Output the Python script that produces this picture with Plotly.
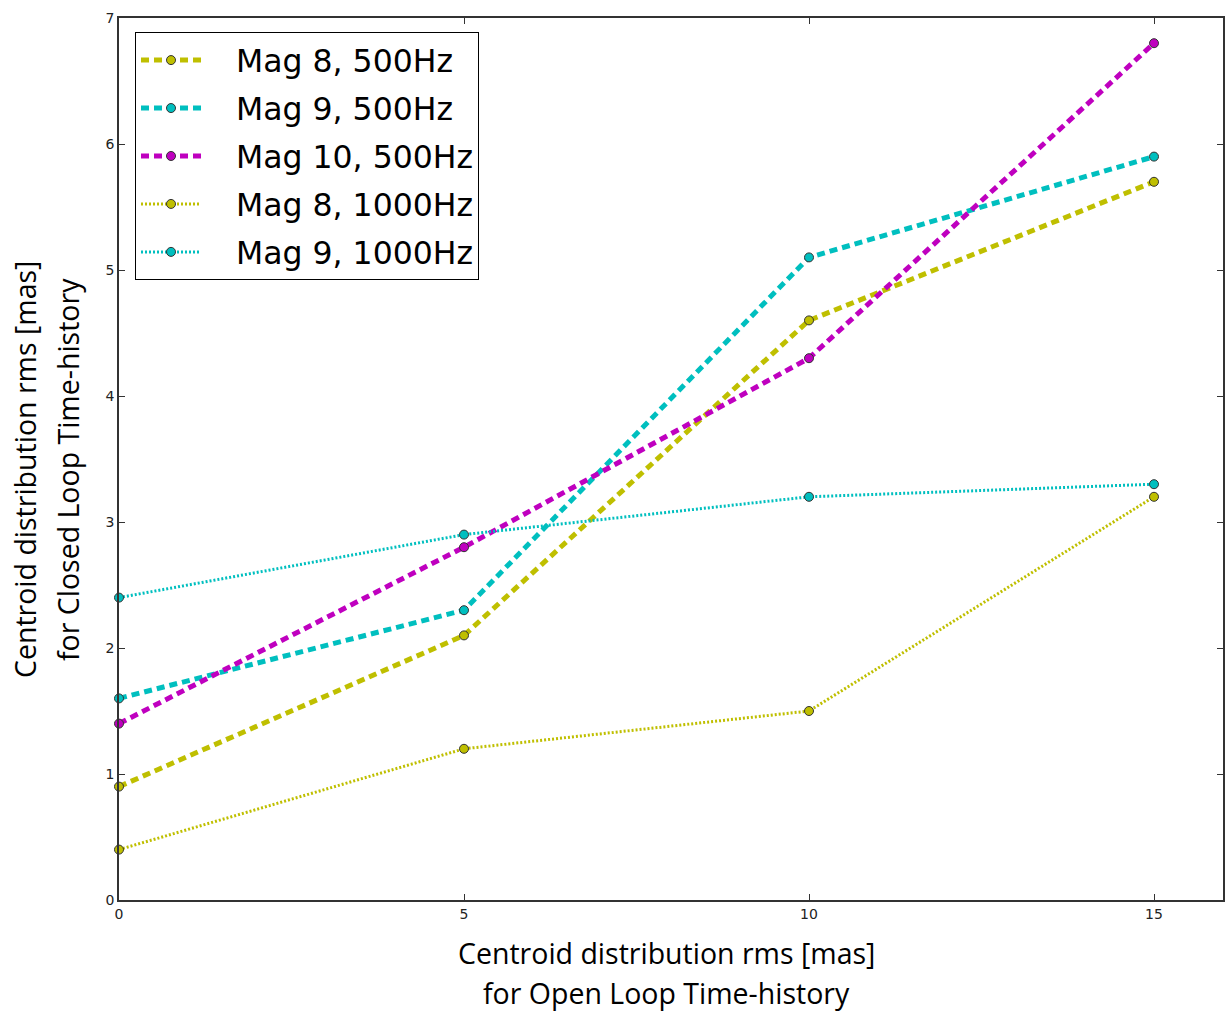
import plotly.graph_objects as go

x_vals = [0, 5, 10, 15]
mag8_500 = [0.9, 2.1, 4.6, 5.7]
mag9_500 = [1.6, 2.3, 5.1, 5.9]
mag10_500 = [1.4, 2.8, 4.3, 6.8]
mag8_1000 = [0.4, 1.2, 1.5, 3.2]
mag9_1000 = [2.4, 2.9, 3.2, 3.3]

series = [
    ("Mag 8, 500Hz", mag8_500, "#bfbf00", "8px,5px", 5),
    ("Mag 9, 500Hz", mag9_500, "#00bfbf", "8px,5px", 5),
    ("Mag 10, 500Hz", mag10_500, "#bf00bf", "8px,5px", 5),
    ("Mag 8, 1000Hz", mag8_1000, "#bfbf00", "2px,2px", 3),
    ("Mag 9, 1000Hz", mag9_1000, "#00bfbf", "2px,2px", 3),
]

x_title = ["Centroid distribution rms [mas]", "for Open Loop Time-history"]
y_title = ["Centroid distribution rms [mas]", "for Closed Loop Time-history"]

fig = go.Figure()
for i, (name, y, color, dash, w) in enumerate(series):
    fig.add_trace(go.Scatter(
        x=x_vals, y=y, name="\u00a0\u00a0\u00a0" + name, mode="lines+markers",
        line=dict(color=color, dash=dash, width=w),
        marker=dict(symbol="circle", size=9, color=color,
                    line=dict(color="#333333", width=1)),
        legendgroup=f"g{i}", cliponaxis=False,
    ))

axis_common = dict(
    showgrid=False, zeroline=False, ticks="inside", ticklen=6,
    tickcolor="#333333", linecolor="#333333", linewidth=1.5, showline=True,
    mirror="ticks", tickfont=dict(family="DejaVu Sans", size=14, color="#222"),
)

title_font = dict(family="Open Sans", size=28.5, color="black")
annotations = [
    dict(text=x_title[0], xref="paper", yref="paper", x=0.5, y=0, xshift=-5, yshift=-53,
         xanchor="center", yanchor="middle", showarrow=False, font=title_font),
    dict(text=x_title[1], xref="paper", yref="paper", x=0.5, y=0, xshift=-5, yshift=-93,
         xanchor="center", yanchor="middle", showarrow=False, font=title_font),
    dict(text=y_title[0], xref="paper", yref="paper", x=0, y=0.4875, xshift=-94,
         xanchor="center", yanchor="middle", textangle=-90, showarrow=False, font=title_font),
    dict(text=y_title[1], xref="paper", yref="paper", x=0, y=0.4875, xshift=-51,
         xanchor="center", yanchor="middle", textangle=-90, showarrow=False, font=title_font),
]

fig.update_layout(
    width=1226, height=1011,
    margin=dict(l=119, r=1, t=18, b=111),
    plot_bgcolor="white", paper_bgcolor="white",
    xaxis=dict(range=[0, 16], tickvals=[0, 5, 10, 15], **axis_common),
    yaxis=dict(range=[0, 7], dtick=1, **axis_common),
    legend=dict(x=0.0145, y=0.984, xanchor="left", yanchor="top",
                bgcolor="white", bordercolor="black", borderwidth=1,
                font=dict(family="DejaVu Sans", size=31.5, color="black"),
                tracegroupgap=4, itemwidth=60),
    annotations=annotations,
    showlegend=True,
)

fig.write_html("out.html")
